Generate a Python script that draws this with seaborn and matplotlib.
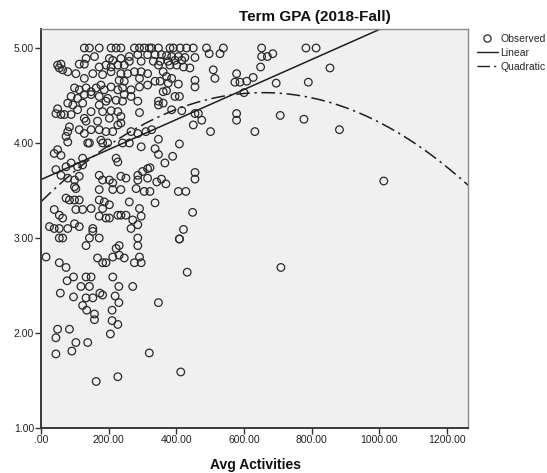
import numpy as np
import pandas as pd
import matplotlib
matplotlib.use("Agg")
import matplotlib.pyplot as plt
import seaborn as sns
from matplotlib.lines import Line2D
from matplotlib.ticker import FuncFormatter

avg_activities = [
    128, 143, 172, 207, 222, 236, 276, 291, 305, 320, 327, 347, 381, 391, 411, 430, 450, 489, 539, 652, 783, 813,
    133, 158, 202, 212, 236, 261, 286, 315,
    49, 59, 54, 64, 79, 103, 113, 128, 172, 192, 207, 227, 246, 261, 296,
    128, 153, 182, 207, 236, 256, 276, 296, 231, 246, 291, 315,
    99, 113, 133, 148, 163, 177, 187, 207, 227, 241, 266, 291, 315,
    89, 108, 128, 148, 172, 197, 222, 246, 266,
    79, 94, 123, 172, 192, 241, 286,
    49, 44, 59, 69, 89, 108, 148, 182, 207, 227, 236, 291,
    128, 133, 167, 202, 227, 236, 84,
    79, 113, 128, 148, 172, 192, 212, 266, 286, 310,
    74, 79, 177, 182, 197, 241, 261, 138, 143, 296,
    49, 39, 59, 123, 222, 227,
    44, 74, 89, 108, 123, 315, 300,
    59, 79, 99, 113, 172, 182, 202, 212, 236, 251, 286, 286, 315,
    99, 103, 172, 212, 236, 281, 305,
    74, 84, 99, 113, 172, 187, 202, 261,
    39, 103, 123, 148, 182, 227, 236, 251, 291,
    54, 64, 172, 192, 202, 271, 296,
    25, 39, 54, 79, 99, 113, 153, 266, 286, 153,
    15, 54, 64, 133, 143, 172, 222, 231, 231, 286, 286,
    54, 74, 167, 182, 192, 212, 246, 276, 296, 291,
    77, 96, 133, 148, 212, 118, 143, 230, 271,
    57, 96, 133, 153, 174, 182, 219, 230, 123, 135, 158, 158, 210, 210, 227,
    49, 44, 84, 205, 103, 138, 91, 44, 320, 227, 163,
    337, 356, 371, 386, 406, 425, 455, 497, 529,
    332, 352, 376, 396, 416,
    347, 381, 401, 421, 440,
    361, 371, 386, 509, 514, 578, 455, 455,
    337, 352, 376, 406, 573, 588, 608, 627,
    361, 371, 396, 409, 347, 361, 347, 386, 416,
    455, 465, 475, 450, 501, 578, 578, 600, 632, 327,
    347, 409, 337, 347, 389, 366, 455, 455, 322,
    342, 356, 369, 406, 428, 337, 448, 421, 322,
    409, 409, 432, 347, 413,
    652, 669, 685, 854, 649, 695, 790, 707, 777, 882, 709, 1013,
]
term_gpa = [
    5.00, 5.00, 5.00, 5.00, 5.00, 5.00, 5.00, 5.00, 5.00, 5.00, 5.00, 5.00, 5.00, 5.00, 5.00, 5.00, 5.00, 5.00, 5.00, 5.00, 5.00, 5.00,
    4.89, 4.91, 4.89, 4.87, 4.89, 4.91, 4.93, 4.93,
    4.82, 4.83, 4.79, 4.77, 4.75, 4.73, 4.83, 4.83, 4.80, 4.82, 4.80, 4.82, 4.82, 4.86, 4.86,
    4.68, 4.73, 4.72, 4.75, 4.73, 4.73, 4.75, 4.75, 4.66, 4.65, 4.68, 4.73,
    4.58, 4.56, 4.58, 4.54, 4.58, 4.61, 4.56, 4.59, 4.56, 4.58, 4.56, 4.59, 4.61,
    4.49, 4.47, 4.51, 4.51, 4.49, 4.47, 4.45, 4.51, 4.49,
    4.42, 4.40, 4.42, 4.40, 4.44, 4.44, 4.44,
    4.36, 4.31, 4.30, 4.30, 4.30, 4.35, 4.33, 4.33, 4.34, 4.33, 4.28, 4.32,
    4.26, 4.23, 4.23, 4.26, 4.19, 4.21, 4.17,
    4.12, 4.14, 4.10, 4.14, 4.14, 4.12, 4.12, 4.12, 4.10, 4.12,
    4.07, 4.01, 4.03, 4.00, 4.00, 4.00, 4.00, 4.00, 4.00, 3.96,
    3.93, 3.89, 3.87, 3.84, 3.84, 3.80,
    3.72, 3.75, 3.79, 3.75, 3.77, 3.73, 3.70,
    3.66, 3.63, 3.61, 3.65, 3.66, 3.61, 3.61, 3.58, 3.65, 3.63, 3.66, 3.61, 3.63,
    3.54, 3.52, 3.51, 3.51, 3.51, 3.52, 3.49,
    3.42, 3.40, 3.40, 3.40, 3.40, 3.38, 3.35, 3.38,
    3.30, 3.30, 3.30, 3.31, 3.31, 3.24, 3.24, 3.24, 3.31,
    3.24, 3.21, 3.23, 3.21, 3.21, 3.19, 3.23,
    3.12, 3.10, 3.10, 3.10, 3.15, 3.12, 3.10, 3.10, 3.14, 3.07,
    2.80, 3.00, 3.00, 2.92, 3.00, 3.00, 2.89, 2.92, 2.82, 3.00, 2.92,
    2.74, 2.69, 2.79, 2.74, 2.74, 2.80, 2.79, 2.74, 2.74, 2.80,
    2.55, 2.59, 2.59, 2.59, 2.59, 2.49, 2.49, 2.49, 2.49,
    2.42, 2.38, 2.37, 2.37, 2.42, 2.40, 2.39, 2.32, 2.29, 2.24, 2.20, 2.14, 2.24, 2.13, 2.09,
    2.04, 1.95, 2.04, 1.99, 1.90, 1.90, 1.81, 1.78, 1.79, 1.54, 1.49,
    4.93, 4.93, 4.92, 4.91, 4.91, 4.90, 4.90, 4.94, 4.94,
    4.86, 4.86, 4.86, 4.87, 4.87,
    4.82, 4.82, 4.82, 4.80, 4.79,
    4.75, 4.70, 4.68, 4.77, 4.68, 4.73, 4.66, 4.59,
    4.65, 4.65, 4.63, 4.62, 4.64, 4.64, 4.65, 4.69,
    4.54, 4.55, 4.49, 4.49, 4.44, 4.42, 4.40, 4.35, 4.34,
    4.31, 4.31, 4.24, 4.19, 4.12, 4.31, 4.24, 4.53, 4.12, 4.14,
    4.04, 3.99, 3.94, 3.88, 3.86, 3.79, 3.69, 3.62, 3.74,
    3.59, 3.62, 3.57, 3.49, 3.49, 3.37, 3.27, 3.09, 3.49,
    2.99, 2.99, 2.64, 2.32, 1.59,
    4.91, 4.91, 4.94, 4.79, 4.80, 4.63, 4.64, 4.29, 4.25, 4.14, 2.69, 3.60,
]
assert len(avg_activities) == len(term_gpa)

# fitted models as shown on the chart (polyval order: highest power first)
linear_coef = [0.00158, 3.615]
quadratic_coef = [-2.66e-6, 0.003495, 3.382]

x_ticks = [0, 200, 400, 600, 800, 1000, 1200]
y_ticks = [1.0, 2.0, 3.0, 4.0, 5.0]
legend_labels = ["Observed", "Linear", "Quadratic"]

df = pd.DataFrame({"Avg Activities": avg_activities, "Term GPA": term_gpa})

sns.set_style("white")
plt.rcParams["font.family"] = ["Liberation Sans", "DejaVu Sans"]

ink = "#1e1e1e"
dashdot = (0, (9, 3, 1.5, 3))
x_max = 1262

fig = plt.figure(figsize=(5.47, 4.73), dpi=100)
ax = fig.add_axes([0.075, 0.0951, 0.7806, 0.8436])
ax.set_facecolor("#f0f0f0")

# observed points as open circles
sns.scatterplot(data=df, x="Avg Activities", y="Term GPA", marker="o", s=30,
                color=ink, linewidth=0.9, legend=False, ax=ax)
pts = ax.collections[-1]
pts.set_facecolor("none")
pts.set_edgecolor("#2a2a2a")

# fit curves across the full x range
grid = np.linspace(0, x_max, 300)
fits = pd.DataFrame({
    "x": grid,
    "linear": np.polyval(linear_coef, grid),
    "quadratic": np.polyval(quadratic_coef, grid),
})
sns.lineplot(data=fits, x="x", y="linear", color=ink, lw=1.1, ax=ax)
sns.lineplot(data=fits, x="x", y="quadratic", color=ink, lw=1.1,
             linestyle=dashdot, ax=ax)

ax.set_xlim(0, x_max)
ax.set_ylim(1.0, 5.2)
ax.set_xticks(x_ticks)
ax.set_yticks(y_ticks)
ax.xaxis.set_major_formatter(FuncFormatter(lambda v, _: f"{v:.2f}".lstrip("0")))
ax.yaxis.set_major_formatter(FuncFormatter(lambda v, _: f"{v:.2f}"))
ax.tick_params(axis="both", direction="out", length=4, width=1, color="#333333",
               labelcolor="#222222", labelsize=7.5, pad=1, left=True, bottom=True)
ax.set_xlabel("")
ax.set_ylabel("")

for side in ["left", "bottom"]:
    ax.spines[side].set_color("#3a3a3a")
    ax.spines[side].set_linewidth(1.4)
for side in ["top", "right"]:
    ax.spines[side].set_color("#8c8c8c")
    ax.spines[side].set_linewidth(1.0)

fig.text(315 / 547, 1 - 17 / 473, "Term GPA (2018-Fall)", ha="center", va="center",
         fontsize=11, fontweight="bold", color="#111111")
fig.text(255 / 547, 1 - 465 / 473, "Avg Activities", ha="center", va="center",
         fontsize=10, fontweight="bold", color="#111111")

handles = [
    Line2D([], [], marker="o", ls="none", mfc="none", mec="#2a2a2a", ms=5.2, mew=0.9),
    Line2D([], [], color=ink, lw=1.0),
    Line2D([], [], color=ink, lw=1.0, ls=dashdot),
]
fig.legend(handles, legend_labels, loc="upper left",
           bbox_to_anchor=(477 / 547, 1 - 34 / 473), frameon=False, fontsize=7.5,
           handlelength=2.0, handletextpad=0.25, labelspacing=0.38,
           borderpad=0, borderaxespad=0)

fig.savefig("out.png", dpi=100)
